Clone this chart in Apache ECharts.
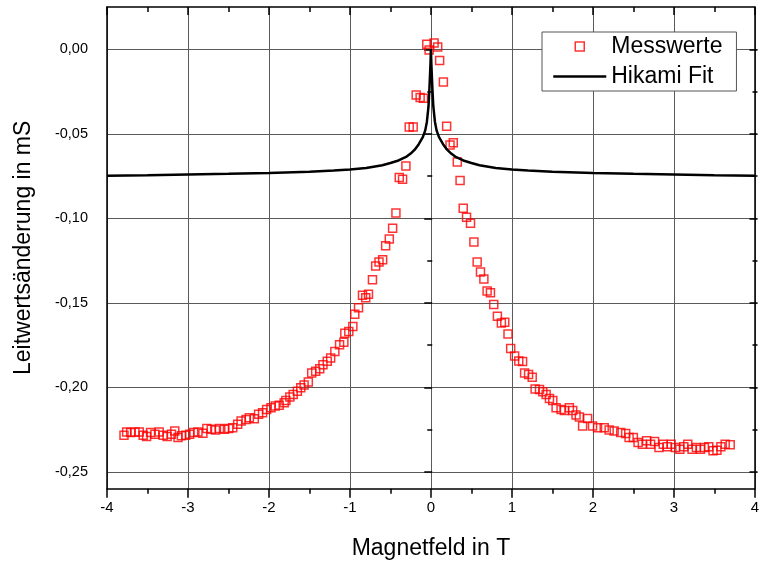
<!DOCTYPE html>
<html>
<head>
<meta charset="utf-8">
<script src="https://cdn.jsdelivr.net/npm/echarts@6/dist/echarts.min.js"></script>
<style>
  html, body { margin: 0; padding: 0; background: #fff; }
  #chart { width: 762px; height: 566px; }
</style>
</head>
<body>
<div id="chart"></div>
<script>
// Magnetoleitwert: Messwerte (offene Quadrate) und Hikami-Fit (Linie)

// Messwerte: Magnetfeld in T
const measField = [
  -3.790, -3.757, -3.708, -3.655, -3.602, -3.553, -3.511, -3.462, -3.409, -3.356,
  -3.307, -3.258, -3.204, -3.163, -3.123, -3.081, -3.028, -2.979, -2.930, -2.877,
  -2.816, -2.767, -2.713, -2.660, -2.611, -2.550, -2.496, -2.447, -2.386, -2.344,
  -2.283, -2.242, -2.181, -2.128, -2.079, -2.029, -1.975, -1.923, -1.874, -1.812,
  -1.791, -1.742, -1.701, -1.649, -1.607, -1.566, -1.514, -1.472, -1.423, -1.373,
  -1.333, -1.280, -1.238, -1.186, -1.128, -1.075, -1.063, -1.014, -0.964, -0.940,
  -0.894, -0.845, -0.805, -0.771, -0.722, -0.682, -0.641, -0.596, -0.559, -0.514,
  -0.473, -0.432, -0.391, -0.350, -0.309, -0.268, -0.219, -0.182, -0.133, -0.092,
  -0.051, -0.022, 0.039, 0.084, 0.108, 0.154, 0.194, 0.236, 0.276, 0.326,
  0.360, 0.399, 0.440, 0.489, 0.531, 0.571, 0.612, 0.654, 0.694, 0.735,
  0.776, 0.821, 0.870, 0.912, 0.952, 0.985, 1.034, 1.085, 1.132, 1.157,
  1.206, 1.251, 1.287, 1.341, 1.382, 1.423, 1.464, 1.505, 1.546, 1.607,
  1.649, 1.710, 1.751, 1.792, 1.833, 1.873, 1.935, 1.996, 2.058, 2.140,
  2.201, 2.263, 2.344, 2.405, 2.447, 2.500, 2.558, 2.611, 2.664, 2.713,
  2.762, 2.816, 2.869, 2.918, 2.967, 3.020, 3.074, 3.123, 3.172, 3.225,
  3.278, 3.328, 3.377, 3.431, 3.484, 3.532, 3.581, 3.634, 3.696
];

// Messwerte: Leitwertsänderung in mS
const measDelta = [
  -0.2284, -0.2264, -0.2268, -0.2264, -0.2264, -0.2284, -0.2291, -0.2268, -0.2278, -0.2264,
  -0.2284, -0.2291, -0.2278, -0.2258, -0.2297, -0.2287, -0.2284, -0.2278, -0.2268, -0.2264,
  -0.2272, -0.2244, -0.2249, -0.2252, -0.2244, -0.2249, -0.2244, -0.2239, -0.2219, -0.2199,
  -0.2190, -0.2180, -0.2186, -0.2160, -0.2150, -0.2131, -0.2121, -0.2111, -0.2107, -0.2092,
  -0.2078, -0.2058, -0.2043, -0.2023, -0.2003, -0.1987, -0.1968, -0.1915, -0.1905, -0.1890,
  -0.1866, -0.1846, -0.1827, -0.1788, -0.1749, -0.1733, -0.1680, -0.1670, -0.1641, -0.1568,
  -0.1530, -0.1455, -0.1470, -0.1450, -0.1363, -0.1282, -0.1259, -0.1245, -0.1163, -0.1122,
  -0.1059, -0.0969, -0.0759, -0.0769, -0.0690, -0.0460, -0.0460, -0.0270, -0.0285, -0.0290,
  0.0030, -0.0004, 0.0037, 0.0013, -0.0067, -0.0194, -0.0455, -0.0567, -0.0553, -0.0667,
  -0.0777, -0.0940, -0.0994, -0.1030, -0.1140, -0.1259, -0.1318, -0.1360, -0.1430, -0.1440,
  -0.1510, -0.1580, -0.1620, -0.1615, -0.1684, -0.1770, -0.1815, -0.1845, -0.1847, -0.1915,
  -0.1925, -0.1940, -0.2010, -0.2013, -0.2027, -0.2043, -0.2066, -0.2078, -0.2121, -0.2131,
  -0.2137, -0.2121, -0.2137, -0.2164, -0.2176, -0.2229, -0.2184, -0.2229, -0.2239, -0.2239,
  -0.2252, -0.2258, -0.2268, -0.2274, -0.2297, -0.2297, -0.2327, -0.2337, -0.2317, -0.2337,
  -0.2321, -0.2356, -0.2337, -0.2352, -0.2337, -0.2356, -0.2366, -0.2352, -0.2337, -0.2366,
  -0.2356, -0.2366, -0.2356, -0.2352, -0.2376, -0.2372, -0.2352, -0.2337, -0.2340
];

// Hikami-Fit: Stützstellen der Fitkurve
const fitField = [
  -4, -3.5, -3, -2.5, -2, -1.5, -1.2, -1, -0.8, -0.6, -0.5, -0.4, -0.3, -0.25, -0.2,
  -0.15, -0.1, -0.07, -0.05, -0.03, -0.02, -0.01, -0.005, 0,
  0.005, 0.01, 0.02, 0.03, 0.05, 0.07, 0.1, 0.15, 0.2, 0.25, 0.3, 0.4, 0.5, 0.6,
  0.8, 1, 1.2, 1.5, 2, 2.5, 3, 3.5, 4
];
const fitDelta = [
  -0.0748, -0.0745, -0.0741, -0.0737, -0.0732, -0.0725, -0.0718, -0.0711, -0.0702, -0.0686,
  -0.0673, -0.0658, -0.0635, -0.0617, -0.0594, -0.0562, -0.0520, -0.0480, -0.0430, -0.0340,
  -0.0250, -0.0140, -0.0080, 0.0000,
  -0.0080, -0.0140, -0.0250, -0.0340, -0.0430, -0.0480, -0.0520, -0.0562, -0.0594, -0.0617,
  -0.0635, -0.0658, -0.0673, -0.0686, -0.0702, -0.0711, -0.0718, -0.0725, -0.0732, -0.0737,
  -0.0741, -0.0745, -0.0748
];

// Achsen
const xTicks = { min: -4, max: 4, step: 1 };
const yFrame = { min: -0.26, max: 0.025 };
const yTicks = { min: -0.25, max: 0, step: 0.05 };

const FONT = 'Liberation Sans, Arial, sans-serif';

const pairs = (xs, ys) => xs.map((x, i) => [x, ys[i]]);

const fmtY = v => {
  const r = Math.round(v * 100);
  if (r % 5 !== 0) return '';
  return (r / 100).toFixed(2).replace('.', ',').replace('-0,00', '0,00');
};

// Plotfläche (Rahmen) und innerer Bereich für die y-Teilung
const plot = { left: 107, top: 7, width: 650.5, height: 481.7 };
const span = yFrame.max - yFrame.min;
const inner = {
  left: plot.left,
  width: plot.width,
  top: plot.top + plot.height * (yFrame.max - yTicks.max) / span,
  height: plot.height * (yTicks.max - yTicks.min) / span
};

const axisLineStyle = { color: '#000', width: 1.5 };
const gridLineStyle = { color: '#5a5a5a', width: 1 };
const markerStyle = { color: 'rgba(0,0,0,0)', borderColor: '#ff0000', borderWidth: 1.5 };

const chart = echarts.init(document.getElementById('chart'), null, { renderer: 'canvas' });

chart.setOption({
  backgroundColor: '#fff',
  animation: false,
  textStyle: { fontFamily: FONT },
  grid: [
    { left: plot.left, top: plot.top, width: plot.width, height: plot.height },
    { left: inner.left, top: inner.top, width: inner.width, height: inner.height }
  ],
  xAxis: [
    {
      gridIndex: 0, type: 'value', position: 'bottom',
      min: xTicks.min, max: xTicks.max, interval: xTicks.step,
      name: 'Magnetfeld in T', nameLocation: 'middle', nameGap: 48,
      nameTextStyle: { fontSize: 23, color: '#000', fontFamily: FONT },
      axisLine: { show: true, onZero: false, lineStyle: axisLineStyle },
      axisTick: { show: true, inside: false, length: 9, lineStyle: axisLineStyle },
      minorTick: { show: true, splitNumber: 2, length: 5, lineStyle: axisLineStyle },
      axisLabel: { fontSize: 15, color: '#000', margin: 12, fontFamily: FONT },
      splitLine: { show: true, lineStyle: gridLineStyle }
    },
    {
      gridIndex: 0, type: 'value', position: 'top',
      min: xTicks.min, max: xTicks.max, interval: xTicks.step,
      axisLine: { show: true, onZero: false, lineStyle: axisLineStyle },
      axisTick: { show: true, inside: true, length: 8, lineStyle: axisLineStyle },
      minorTick: { show: true, splitNumber: 2, length: 5, lineStyle: axisLineStyle },
      axisLabel: { show: false },
      splitLine: { show: false }
    },
    {
      gridIndex: 1, type: 'value', show: false,
      min: xTicks.min, max: xTicks.max
    }
  ],
  yAxis: [
    {
      gridIndex: 0, type: 'value', position: 'left',
      min: yFrame.min, max: yFrame.max,
      name: 'Leitwertsänderung in mS', nameLocation: 'middle', nameGap: 72,
      nameTextStyle: { fontSize: 23, color: '#000', fontFamily: FONT },
      axisLine: { show: true, onZero: false, lineStyle: axisLineStyle },
      axisTick: { show: false }, axisLabel: { show: false }, splitLine: { show: false }
    },
    {
      gridIndex: 0, type: 'value', position: 'right',
      min: yFrame.min, max: yFrame.max,
      axisLine: { show: true, onZero: false, lineStyle: axisLineStyle },
      axisTick: { show: false }, axisLabel: { show: false }, splitLine: { show: false }
    },
    {
      gridIndex: 1, type: 'value', position: 'left',
      min: yTicks.min, max: yTicks.max, interval: yTicks.step,
      axisLine: { show: false },
      axisTick: { show: true, inside: false, length: 8, lineStyle: axisLineStyle },
      minorTick: { show: true, splitNumber: 2, length: 5, lineStyle: axisLineStyle },
      axisLabel: { fontSize: 14.5, color: '#000', margin: 19, formatter: fmtY, fontFamily: FONT },
      splitLine: { show: true, lineStyle: gridLineStyle }
    },
    {
      gridIndex: 1, type: 'value', position: 'right',
      min: yTicks.min, max: yTicks.max, interval: yTicks.step,
      axisLine: { show: false },
      axisTick: { show: true, inside: true, length: 8, lineStyle: axisLineStyle },
      minorTick: { show: true, splitNumber: 2, length: 5, lineStyle: axisLineStyle },
      axisLabel: { show: false },
      splitLine: { show: false }
    }
  ],
  legend: {
    orient: 'vertical',
    left: 542, top: 32,
    padding: [3, 14, 3, 10],
    backgroundColor: '#fff',
    borderColor: '#555', borderWidth: 1, borderRadius: 0,
    itemWidth: 53, itemHeight: 9, itemGap: 7,
    symbolKeepAspect: true,
    textStyle: { fontSize: 23, color: '#000', fontFamily: FONT, lineHeight: 23 },
    data: [
      { name: 'Messwerte', icon: 'path://M0,0L10,0L10,10L0,10Z', itemStyle: markerStyle },
      { name: 'Hikami Fit',
        itemStyle: { color: 'rgba(0,0,0,0)', borderColor: 'rgba(0,0,0,0)', borderWidth: 0 },
        lineStyle: { color: '#000', width: 2.5 } }
    ]
  },
  series: [
    {
      name: 'Messwerte', type: 'scatter',
      xAxisIndex: 0, yAxisIndex: 0,
      symbol: 'rect', symbolSize: 8,
      itemStyle: markerStyle,
      data: pairs(measField, measDelta),
      z: 3
    },
    {
      name: 'Hikami Fit', type: 'line',
      xAxisIndex: 0, yAxisIndex: 0,
      symbol: 'none', smooth: false,
      lineStyle: { color: '#000', width: 2.5 },
      itemStyle: { color: '#000' },
      data: pairs(fitField, fitDelta),
      z: 4
    }
  ]
});
</script>
</body>
</html>
